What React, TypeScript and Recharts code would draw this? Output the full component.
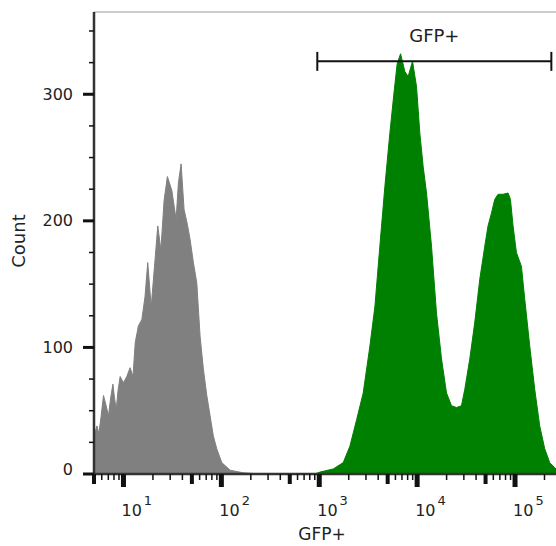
import React from "react";
import { ComposedChart, Area, XAxis, YAxis, ReferenceLine } from "recharts";

// gray (negative) population, GFP intensity vs count
const grayX = [5, 5.36, 5.6, 5.9, 6.25, 6.6, 7.03, 7.4, 7.8, 8.1, 8.44, 8.8, 9.25, 10, 10.8, 11.7, 12.5, 13.2, 14.2, 15.4, 16.6, 17.7, 19.2, 21, 22.4, 24.1, 26, 28.1, 31.2, 34.5, 36.4, 38.8, 41.6, 45, 48, 51.8, 56.1, 60.6, 65.5, 71, 76.7, 82.8, 89.7, 101, 123, 166, 248];
const grayCount = [30, 38, 32, 45, 62, 55, 46, 60, 71, 60, 51, 66, 77, 72, 77, 84, 77, 104, 117, 122, 140, 167, 132, 169, 196, 177, 216, 235, 224, 201, 230, 245, 209, 197, 185, 167, 151, 109, 83, 62, 46, 30, 20, 9, 3, 1, 0];

// green (GFP+) population
const greenX = [900, 1016, 1390, 1758, 2057, 2410, 2813, 3290, 3700, 4160, 4680, 5260, 5780, 6250, 6770, 7490, 8090, 8970, 9860, 10660, 11520, 12470, 14020, 15770, 17740, 19950, 22440, 25240, 28390, 30690, 34520, 38820, 43660, 49100, 52990, 57410, 62080, 67120, 75490, 84900, 89780, 95450, 103300, 116300, 125700, 141400, 158900, 178700, 201000, 226000, 262144];
const greenCount = [0, 1.5, 4, 9, 22, 43, 64, 101, 132, 180, 227, 269, 300, 324, 332, 318, 314, 326, 306, 269, 243, 222, 180, 127, 91, 64, 54, 52.5, 54, 67, 91, 120, 154, 180, 196, 206, 217, 221, 221, 222, 217, 196, 175, 164, 138, 101, 67, 38, 20, 9, 4];

const xTicks = [
  5, 6, 7, 8, 9,
  10, 20, 30, 40, 50, 60, 70, 80, 90,
  100, 200, 300, 400, 500, 600, 700, 800, 900,
  1000, 2000, 3000, 4000, 5000, 6000, 7000, 8000, 9000,
  10000, 20000, 30000, 40000, 50000, 60000, 70000, 80000, 90000,
  100000, 200000,
];
const decades = [10, 100, 1000, 10000, 100000];
const yTicks = [0, 25, 50, 75, 100, 125, 150, 175, 200, 225, 250, 275, 300, 325, 350];

const gateName = "GFP+";
const gateRange = [955, 235000];
const gateLevel = 326;

const grayData = grayX.map((x, i) => ({ x, count: grayCount[i] }));
const greenData = greenX.map((x, i) => ({ x, count: greenCount[i] }));

const FONT = "DejaVu Sans";
const INK = "#111";

const XTick = (props: any) => {
  const { x, y, payload } = props;
  const v = payload.value;
  if (decades.includes(v)) {
    const exp = Math.round(Math.log10(v));
    return (
      <g>
        <rect x={x - 2.5} y={y} width={5} height={13} fill={INK} />
        <text x={x - 2} y={y + 42} fontFamily={FONT} fontSize={16} fill="#222">
          10
          <tspan dx={2} dy={-11} fontSize={13}>{exp}</tspan>
        </text>
      </g>
    );
  }
  if (String(v)[0] === "5") {
    return <rect x={x - 2} y={y} width={4} height={10} fill={INK} />;
  }
  return <rect x={x - 0.75} y={y} width={1.5} height={6} fill={INK} />;
};

const YTick = (props: any) => {
  const { x, y, payload } = props;
  const v = payload.value;
  const major = v % 100 === 0;
  return (
    <g>
      <rect
        x={major ? x - 11 : x - 5}
        y={y - (major ? 1.5 : 0.75)}
        width={major ? 11 : 5}
        height={major ? 3 : 1.5}
        fill={INK}
      />
      {major && (
        <text
          x={x - 21}
          y={v === 0 ? y - 5 : y}
          dy="0.35em"
          textAnchor="end"
          fontFamily={FONT}
          fontSize={16}
          fill="#222"
        >
          {v}
        </text>
      )}
    </g>
  );
};

export default function App() {
  return (
    <div style={{ position: "absolute", left: 0, top: 0, background: "#fff" }}>
      <ComposedChart width={556} height={546} margin={{ top: 12, right: 0, bottom: 0, left: 0 }}>
        <XAxis
          dataKey="x"
          type="number"
          scale="log"
          domain={[5, 262144]}
          allowDataOverflow
          ticks={xTicks}
          interval={0}
          tick={<XTick />}
          tickSize={0}
          tickMargin={0}
          tickLine={false}
          height={72}
          axisLine={{ stroke: "#333", strokeWidth: 2.5 }}
          label={{
            content: (p: any) => (
              <text
                x={p.viewBox.x + p.viewBox.width / 2 - 3}
                y={540}
                textAnchor="middle"
                fontFamily={FONT}
                fontSize={17}
                fill="#222"
              >
                GFP+
              </text>
            ),
          }}
        />
        <YAxis
          type="number"
          domain={[0, 365]}
          ticks={yTicks}
          interval={0}
          tick={<YTick />}
          tickSize={0}
          tickMargin={0}
          tickLine={false}
          width={94}
          axisLine={{ stroke: "#333", strokeWidth: 2.5 }}
          label={{
            content: (p: any) => {
              const cy = p.viewBox.y + p.viewBox.height / 2 - 2;
              return (
                <text
                  x={25}
                  y={cy}
                  transform={`rotate(-90 25 ${cy})`}
                  textAnchor="middle"
                  fontFamily={FONT}
                  fontSize={18}
                  fill="#222"
                >
                  Count
                </text>
              );
            },
          }}
        />
        <ReferenceLine y={365} stroke="#999" strokeWidth={1} />
        <Area
          data={grayData}
          dataKey="count"
          type="linear"
          fill="#808080"
          stroke="#808080"
          fillOpacity={1}
          strokeWidth={1}
          dot={false}
          activeDot={false}
          isAnimationActive={false}
        />
        <Area
          data={greenData}
          dataKey="count"
          type="linear"
          fill="#008000"
          stroke="#008000"
          fillOpacity={1}
          strokeWidth={1}
          dot={false}
          activeDot={false}
          isAnimationActive={false}
        />
        <ReferenceLine
          segment={[{ x: gateRange[0], y: gateLevel }, { x: gateRange[1], y: gateLevel }]}
          stroke={INK}
          strokeWidth={2}
          label={{ value: gateName, position: "top", offset: 19, fontSize: 18, fill: "#222", fontFamily: FONT }}
        />
        <ReferenceLine
          segment={[{ x: gateRange[0], y: gateLevel - 7.5 }, { x: gateRange[0], y: gateLevel + 7.5 }]}
          stroke={INK}
          strokeWidth={2}
        />
        <ReferenceLine
          segment={[{ x: gateRange[1], y: gateLevel - 7.5 }, { x: gateRange[1], y: gateLevel + 7.5 }]}
          stroke={INK}
          strokeWidth={2}
        />
      </ComposedChart>
    </div>
  );
}
